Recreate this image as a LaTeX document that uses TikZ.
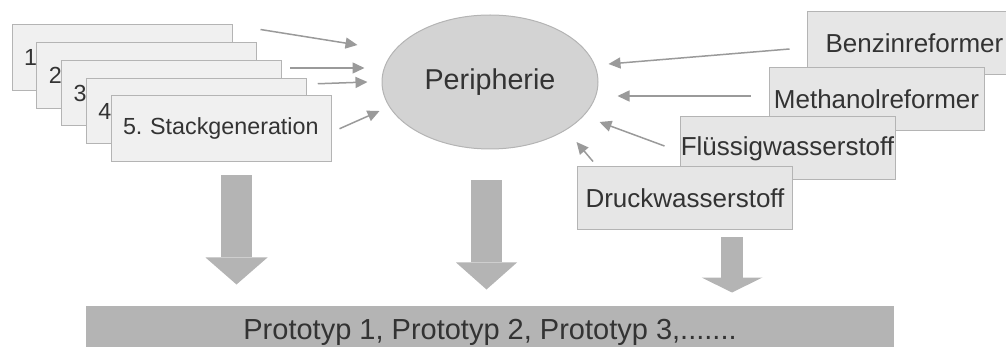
\documentclass[tikz,border=0pt]{standalone}
\usepackage{fontspec}
\setmainfont{Liberation Sans}
\usetikzlibrary{shapes.geometric,arrows.meta}
\frenchspacing

\definecolor{boxfill}{HTML}{F0F0F0}
\definecolor{srcfill}{HTML}{E6E6E6}
\definecolor{edge}{HTML}{B4B4B4}
\definecolor{ink}{HTML}{333333}
\definecolor{pfeil}{HTML}{9A9A9A}
\definecolor{block}{HTML}{B4B4B4}
\definecolor{perifill}{HTML}{D3D3D3}

\begin{document}
\begin{tikzpicture}[
                x=1pt, y=-1pt,
                every node/.style={text=ink},
                stack/.style={draw=edge, fill=boxfill, line width=1pt, minimum height=65.5pt,
                    text width=196pt, inner xsep=12pt, align=left, font=\fontsize{23.3}{28}\selectfont},
                source/.style={draw=edge, fill=srcfill, line width=1pt, minimum width=215pt,
                    minimum height=63pt, inner sep=0pt, font=\fontsize{26}{31}\selectfont},
                peri/.style={ellipse, draw=edge, fill=perifill, line width=1pt, minimum width=216pt,
                    minimum height=134pt, inner sep=0pt, font=\fontsize{28.7}{34}\selectfont},
                proto/.style={fill=block, minimum width=808pt, minimum height=52pt, inner sep=0pt,
                    font=\fontsize{29}{34}\selectfont},
                feed/.style={draw=pfeil, line width=1.5pt, -{Triangle[length=12pt,width=11pt]}},
                bigdown/.style args={#1/#2/#3}{draw=block, line width=#1,
                    -{Triangle[length=#2,width=#3,line width=0pt]}}
            ]
            \useasboundingbox (0,0) rectangle (1006,347);

            % Stackgenerationen
            \foreach \i in {1,...,4}
                \node[stack] (s\i) at ({122+24.75*(\i-1)},{57.75+17.75*(\i-1)}) {\i};
            \node[stack] (s5) at (221,128.75) {5. Stackgeneration};

            \node[peri] (peri) at (490,82) {Peripherie};

            % Wasserstoffquellen
            \node[source] (benzin) at (914.5,43.5) {Benzinreformer};
            \node[source] (methanol) at (876.5,99) {Methanolreformer};
            \node[source] (fluessig) at (787.5,148.5) {Flüssigwasserstoff};
            \node[source] (druck) at (685,198.5) {Druckwasserstoff};

            \node[proto] (proto) at (490,332) {Prototyp 1, Prototyp 2, Prototyp 3,.......};

            % Zuleitungen zur Peripherie
            \draw[feed] ([shift={(28,5)}]s1.north east) -- ([shift={(-24,-37)}]peri.west);
            \draw[feed] ([shift={(8,8)}]s3.north east) -- ([shift={(-17,-14)}]peri.west);
            \draw[feed] ([shift={(11,6)}]s4.north east) -- ([shift={(-14,0)}]peri.west);
            \draw[feed] ([shift={(8,0)}]s5.east) -- ([shift={(-2,29)}]peri.west);
            \draw[feed] ([shift={(-17,5.5)}]benzin.west) -- ([shift={(10,-18)}]peri.east);
            \draw[feed] ([shift={(-18,-3)}]methanol.west) -- ([shift={(19,14)}]peri.east);
            \draw[feed] ([shift={(-15,-2.5)}]fluessig.west) -- ([shift={(1,40)}]peri.east);
            \draw[feed] ([shift={(16,-5)}]druck.north west) -- ([shift={(-22,60)}]peri.east);

            % grosse Pfeile zu den Prototypen
            \draw[bigdown=31pt/27pt/62pt] ([shift={(15.5,13.5)}]s5.south) -- ++(0,109);
            \draw[bigdown=31pt/27pt/61pt] ([shift={(-3.5,31)}]peri.south) -- ++(0,109);
            \draw[bigdown=22pt/15pt/61pt] ([shift={(47,7)}]druck.south) -- ++(0,55);

        \end{tikzpicture}
\end{document}
